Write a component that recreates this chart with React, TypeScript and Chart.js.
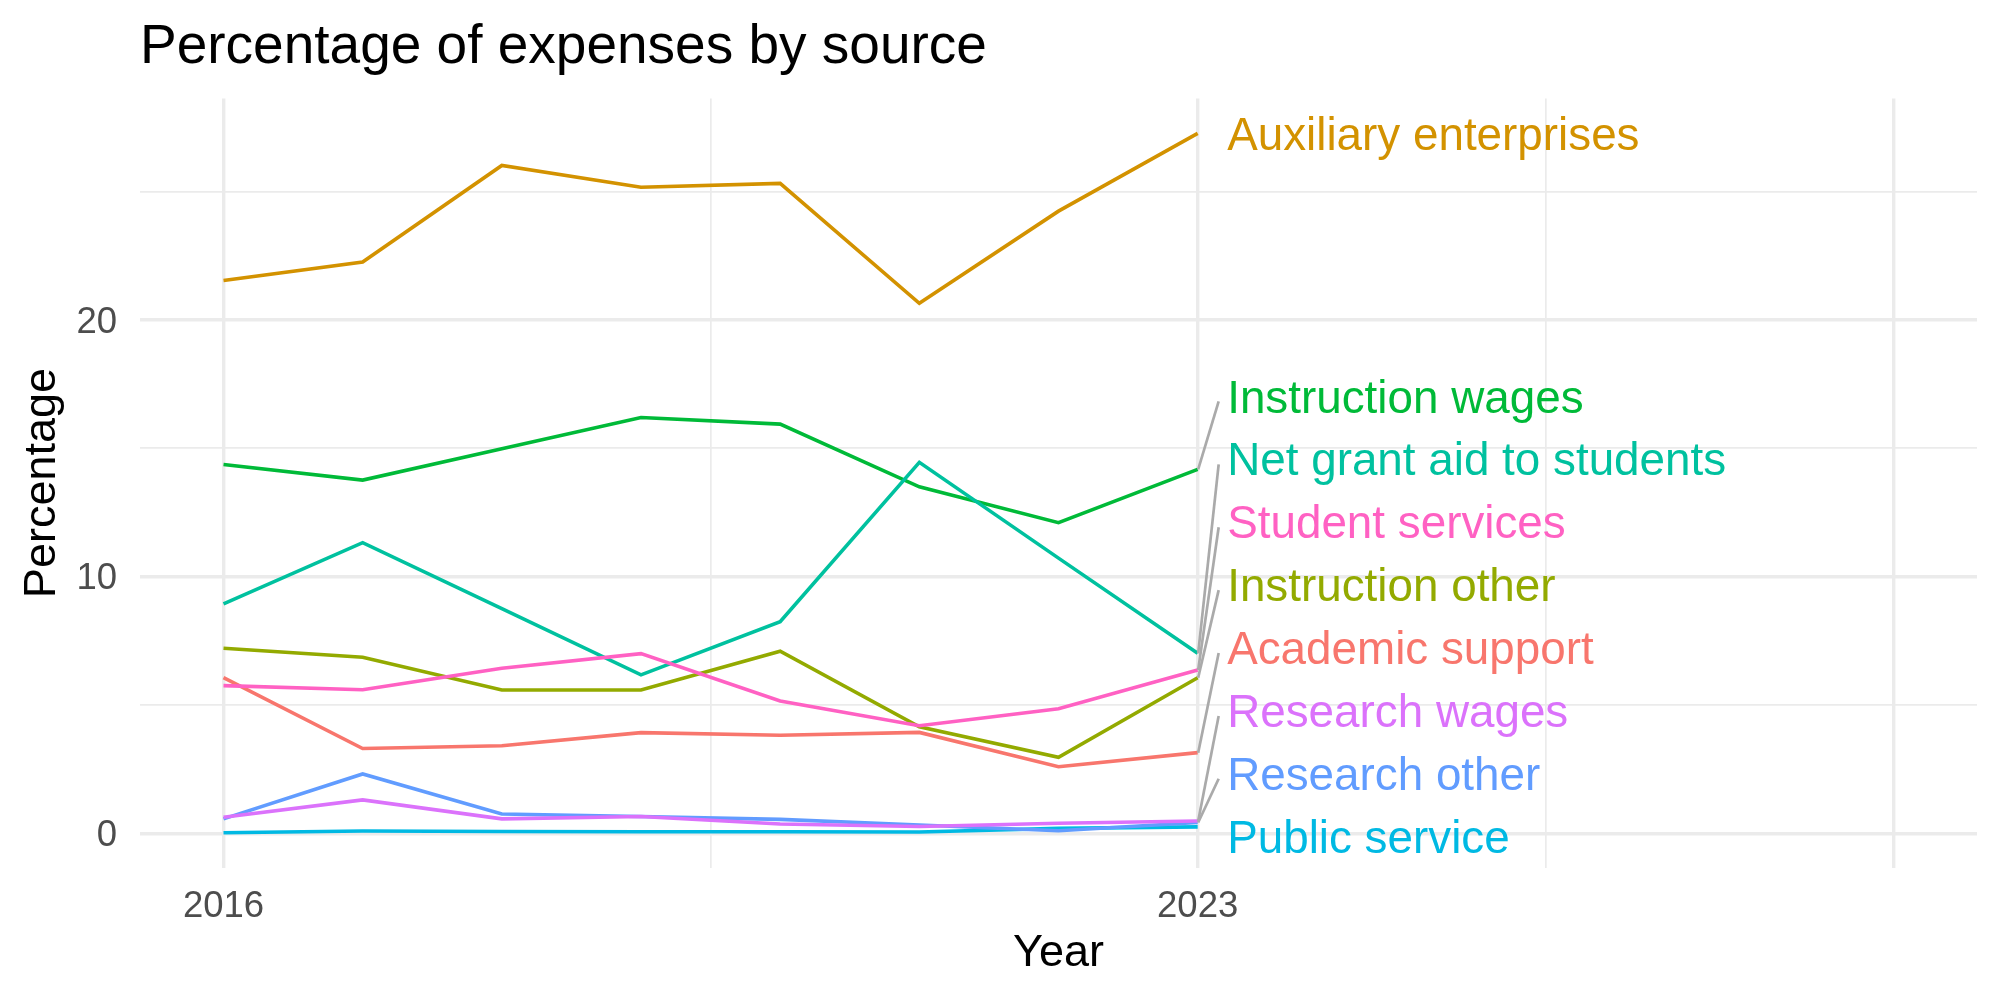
import { useEffect, useRef } from "react";
import { Chart, registerables } from "chart.js";

Chart.register(...registerables);

// Fiscal years on the horizontal axis
const years = [2016, 2017, 2018, 2019, 2020, 2021, 2022, 2023];

// Share of total expenses (%) per category, one array per series
const academicSupport = [6.06, 3.3, 3.41, 3.92, 3.82, 3.93, 2.59, 3.14];
const auxiliaryEnterprises = [21.54, 22.26, 26.02, 25.17, 25.32, 20.65, 24.24, 27.27];
const instructionOther = [7.21, 6.86, 5.58, 5.58, 7.09, 4.15, 2.96, 6.06];
const instructionWages = [14.37, 13.76, 14.98, 16.2, 15.94, 13.5, 12.1, 14.18];
const netGrantAid = [8.94, 11.32, 8.75, 6.17, 8.24, 14.45, 10.72, 7.01];
const publicService = [0.02, 0.09, 0.07, 0.06, 0.06, 0.05, 0.19, 0.25];
const researchOther = [0.56, 2.31, 0.75, 0.65, 0.54, 0.32, 0.1, 0.42];
const researchWages = [0.62, 1.3, 0.56, 0.65, 0.36, 0.26, 0.39, 0.48];
const studentServices = [5.75, 5.59, 6.43, 7.0, 5.15, 4.19, 4.85, 6.36];

const seriesNames = [
  "Academic support",
  "Auxiliary enterprises",
  "Instruction other",
  "Instruction wages",
  "Net grant aid to students",
  "Public service",
  "Research other",
  "Research wages",
  "Student services",
];
const seriesValues = [
  academicSupport,
  auxiliaryEnterprises,
  instructionOther,
  instructionWages,
  netGrantAid,
  publicService,
  researchOther,
  researchWages,
  studentServices,
];
const seriesColors = [
  "#F8766D",
  "#D39200",
  "#93AA00",
  "#00BA38",
  "#00C19F",
  "#00B9E3",
  "#619CFF",
  "#DB72FB",
  "#FF61C3",
];

// Axis breaks and their labels
const xBreaks = [2016, 2019.5, 2023, 2025.5, 2028];
const xBreakLabels = ["2016", "", "2023", "", ""];
const xMajorBreaks = [2016, 2023, 2028];
const xLimits = [2016, 2028];
const yBreaks = [0, 5, 10, 15, 20, 25];
const yBreakLabels = ["0", "", "10", "", "20", ""];
const yMajorBreaks = [0, 10, 20];

const FONT = "'Liberation Sans', Arial, Helvetica, sans-serif";
const GRID = "#EBEBEB";

// Direct labels at the end of each line, spread apart so they don't overlap
const endLabels = {
  id: "endLabels",
  afterDatasetsDraw(chart: any) {
    const { ctx, chartArea, scales } = chart;
    const xs = scales.x;
    const ys = scales.y;
    const gap = 62.9;
    const lastYear = years[years.length - 1];
    const items = seriesNames.map((name, i) => {
      const vals = seriesValues[i];
      return {
        name,
        color: seriesColors[i],
        px: xs.getPixelForValue(lastYear),
        py: ys.getPixelForValue(vals[vals.length - 1]),
        y: 0,
      };
    });
    items.sort((a, b) => a.py - b.py);

    // least-squares placement with a minimum spacing (pool adjacent violators)
    const blocks: { sum: number; n: number }[] = [];
    items.forEach((it, i) => {
      blocks.push({ sum: it.py - i * gap, n: 1 });
      while (blocks.length > 1) {
        const a = blocks[blocks.length - 2];
        const b = blocks[blocks.length - 1];
        if (a.sum / a.n > b.sum / b.n) {
          a.sum += b.sum;
          a.n += b.n;
          blocks.pop();
        } else break;
      }
    });
    let k = 0;
    blocks.forEach((b) => {
      for (let j = 0; j < b.n; j++) {
        items[k].y = b.sum / b.n + k * gap;
        k++;
      }
    });
    const n = items.length;
    const minY = chartArea.top + 31;
    const maxY = chartArea.bottom - 31;
    for (let i = n - 1; i >= 0; i--) {
      items[i].y = Math.min(items[i].y, i === n - 1 ? maxY : items[i + 1].y - gap);
    }
    for (let i = 0; i < n; i++) {
      items[i].y = Math.max(items[i].y, i === 0 ? minY : items[i - 1].y + gap);
    }

    ctx.save();
    ctx.strokeStyle = "#AAAAAA";
    ctx.lineWidth = 2.7;
    ctx.lineCap = "butt";
    items.forEach((it) => {
      if (Math.abs(it.y - it.py) > 25) {
        ctx.beginPath();
        ctx.moveTo(it.px + 0.5, it.py);
        ctx.lineTo(it.px + 21, it.y + 5);
        ctx.stroke();
      }
    });
    ctx.font = `45.8px ${FONT}`;
    ctx.textAlign = "left";
    ctx.textBaseline = "middle";
    items.forEach((it) => {
      ctx.fillStyle = it.color;
      ctx.fillText(it.name, it.px + 29.5, it.y + 3.5);
    });
    ctx.restore();
  },
};

export default function App() {
  const canvasRef = useRef<HTMLCanvasElement | null>(null);

  useEffect(() => {
    const canvas = canvasRef.current;
    if (!canvas) return;

    const all = seriesValues.flat();
    const yMinData = Math.min(...all);
    const yMaxData = Math.max(...all);
    const yPad = (yMaxData - yMinData) * 0.05;
    const xPad = (xLimits[1] - xLimits[0]) * 0.05;

    const chart = new Chart(canvas, {
      type: "line",
      data: {
        datasets: seriesNames.map((name, i) => ({
          label: name,
          data: years.map((yr, j) => ({ x: yr, y: seriesValues[i][j] })),
          borderColor: seriesColors[i],
          backgroundColor: seriesColors[i],
          borderWidth: 3.6,
          pointRadius: 0,
          tension: 0,
          fill: false,
          order: seriesNames.length - i,
        })),
      },
      options: {
        animation: false,
        responsive: false,
        devicePixelRatio: 1,
        layout: { padding: { top: 0, left: 0, right: 23, bottom: 0 } },
        plugins: {
          legend: { display: false },
          tooltip: { enabled: false },
          title: {
            display: true,
            text: "Percentage of expenses by source",
            align: "start",
            fullSize: false,
            color: "#000000",
            font: { family: FONT, size: 55, weight: "normal", lineHeight: 1.2 },
            padding: { top: 15, bottom: 17.4 },
          },
        },
        scales: {
          x: {
            type: "linear",
            min: xLimits[0] - xPad,
            max: xLimits[1] + xPad,
            afterBuildTicks: (scale: any) => {
              scale.ticks = xBreaks.map((v) => ({ value: v }));
            },
            afterFit: (scale: any) => {
              scale.height = 132.3;
            },
            ticks: {
              autoSkip: false,
              maxRotation: 0,
              padding: 17.2,
              color: "#4D4D4D",
              font: { family: FONT, size: 36.5 },
              callback: (value: any) => {
                const idx = xBreaks.indexOf(Number(value));
                return idx >= 0 ? xBreakLabels[idx] : "";
              },
            },
            grid: {
              color: GRID,
              drawTicks: false,
              lineWidth: (ctx: any) =>
                xMajorBreaks.includes(ctx.tick?.value) ? 3.4 : 1.7,
            },
            border: { display: false },
            title: {
              display: true,
              text: "Year",
              color: "#000000",
              font: { family: FONT, size: 45, lineHeight: 1.2 },
              padding: { top: 0, bottom: 19.8 },
            },
          },
          y: {
            type: "linear",
            min: yMinData - yPad,
            max: yMaxData + yPad,
            afterBuildTicks: (scale: any) => {
              scale.ticks = yBreaks.map((v) => ({ value: v }));
            },
            afterFit: (scale: any) => {
              scale.width = 140;
            },
            ticks: {
              autoSkip: false,
              padding: 23,
              labelOffset: 2.5,
              color: "#4D4D4D",
              font: { family: FONT, size: 36.5 },
              callback: (value: any) => {
                const idx = yBreaks.indexOf(Number(value));
                return idx >= 0 ? yBreakLabels[idx] : "";
              },
            },
            grid: {
              color: GRID,
              drawTicks: false,
              lineWidth: (ctx: any) =>
                yMajorBreaks.includes(ctx.tick?.value) ? 3.4 : 1.7,
            },
            border: { display: false },
            title: {
              display: true,
              text: "Percentage",
              color: "#000000",
              font: { family: FONT, size: 45, lineHeight: 1.2 },
              padding: { top: 16, bottom: 0 },
            },
          },
        },
      } as any,
      plugins: [endLabels],
    });

    return () => chart.destroy();
  }, []);

  return (
    <div
      style={{
        position: "fixed",
        left: 0,
        top: 0,
        width: 2000,
        height: 1000,
        background: "#ffffff",
      }}
    >
      <canvas
        ref={canvasRef}
        width={2000}
        height={1000}
        style={{ width: 2000, height: 1000, display: "block" }}
      />
    </div>
  );
}
